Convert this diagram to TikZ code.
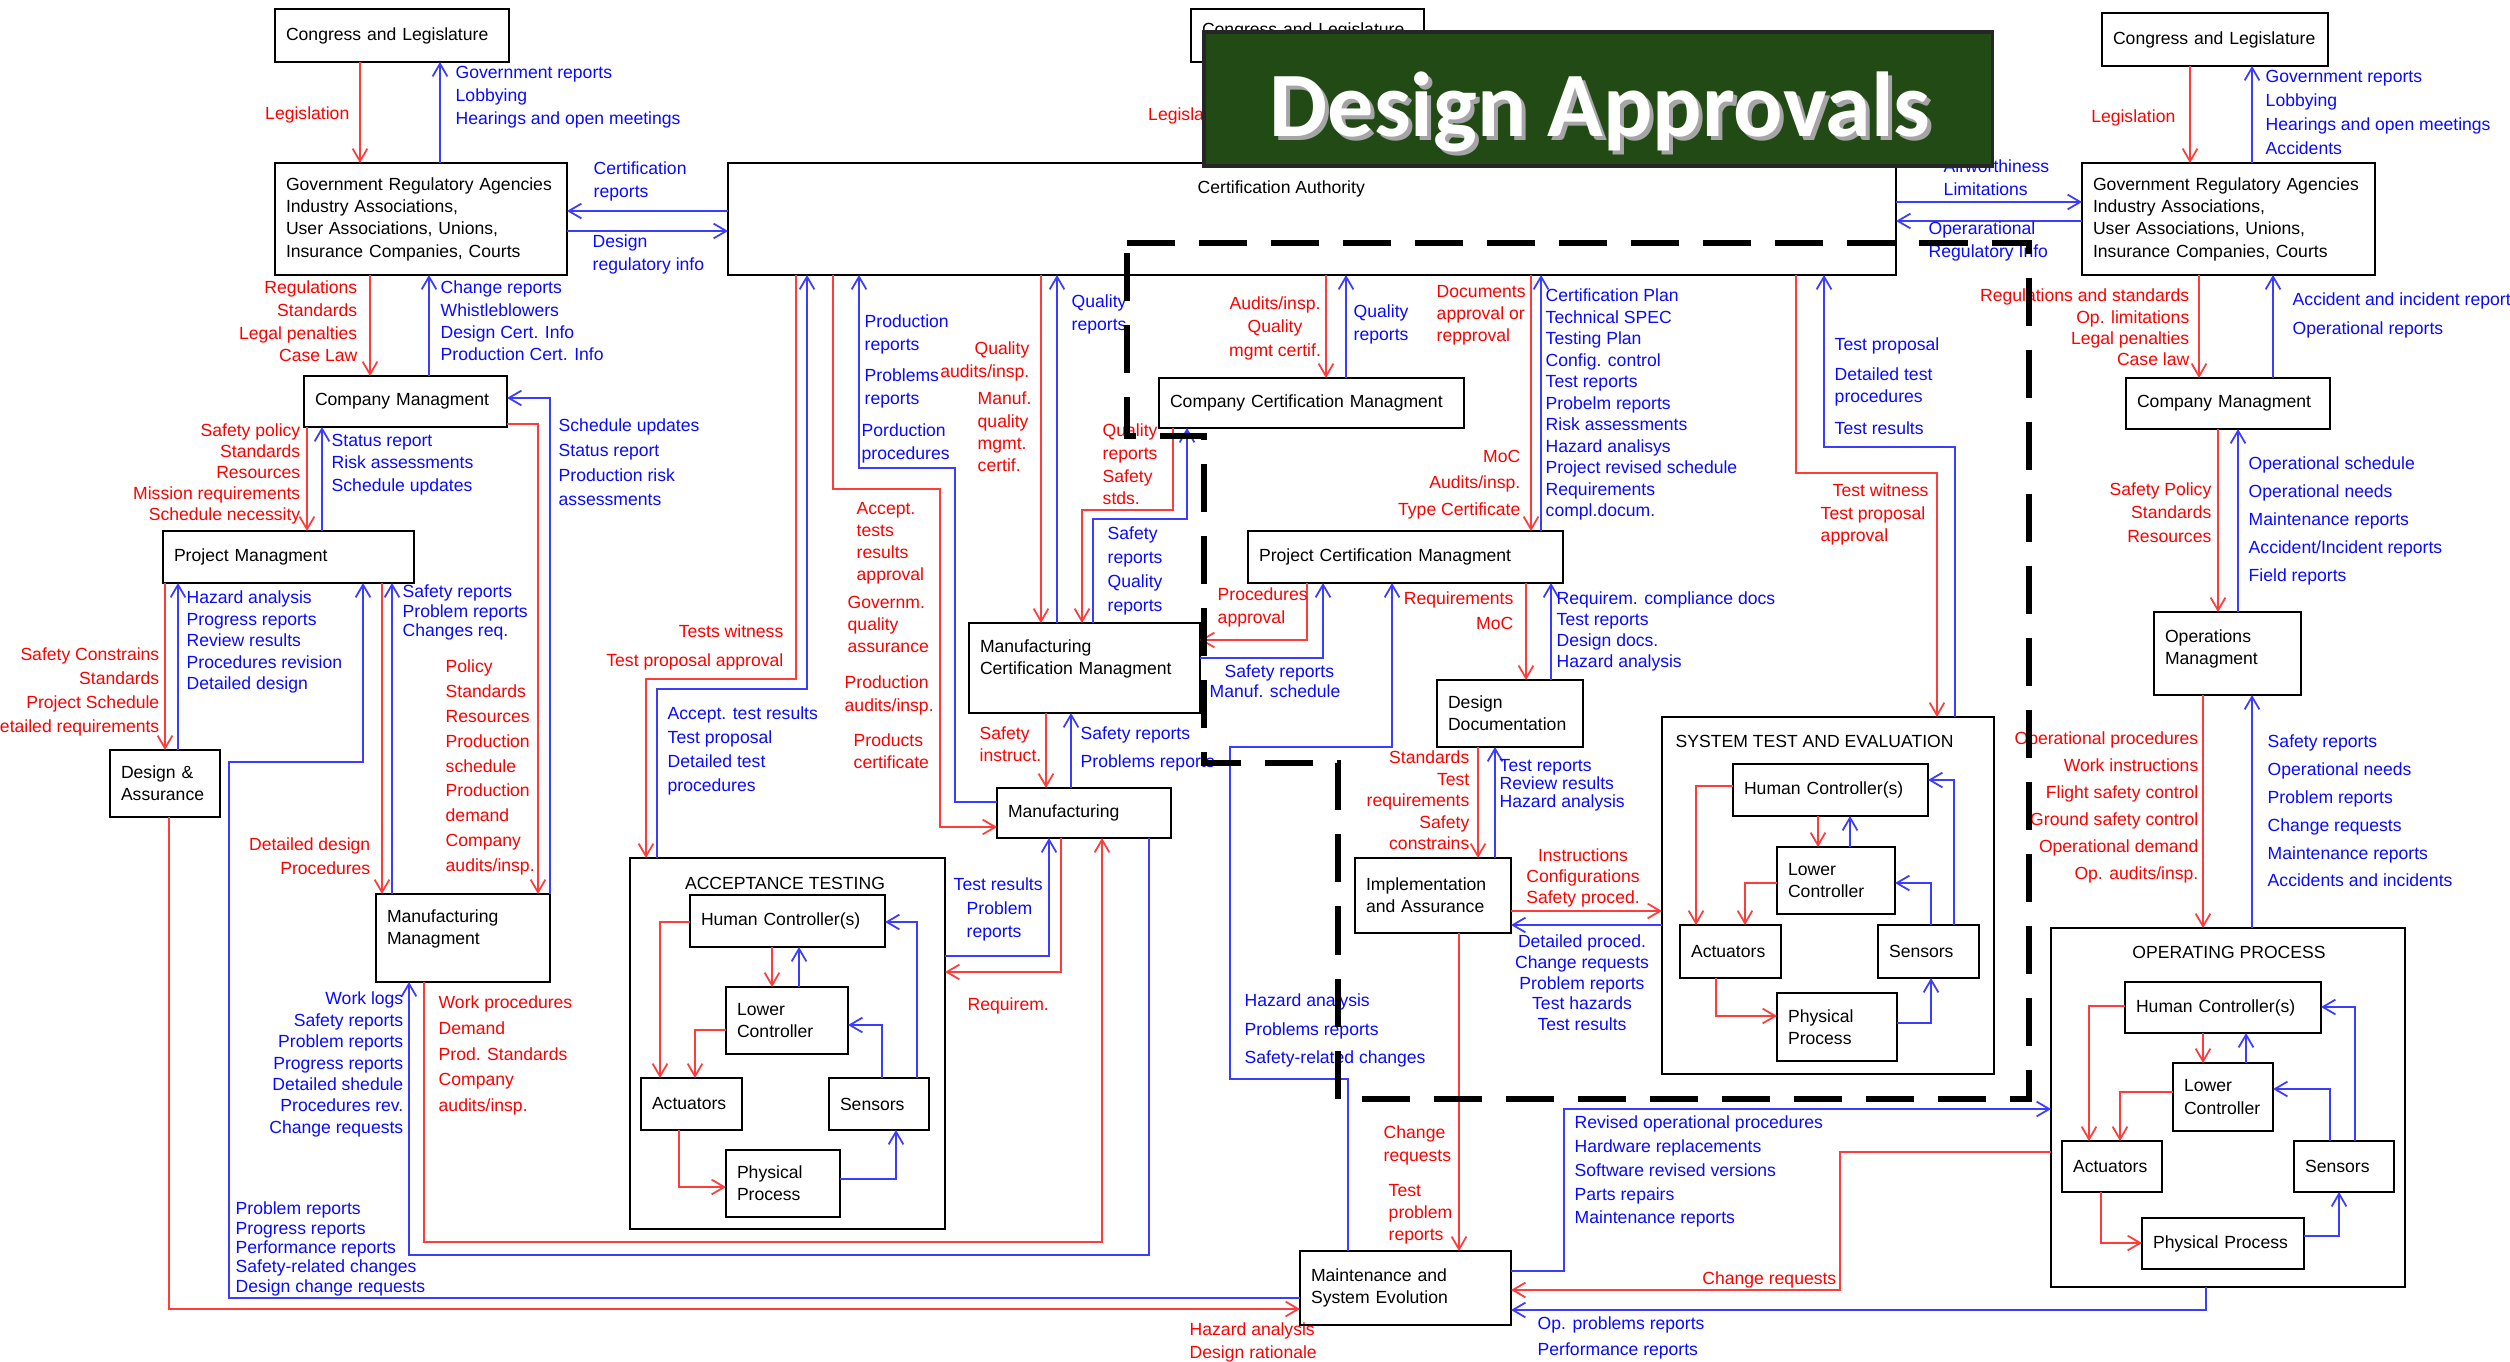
\documentclass[tikz,border=0pt]{standalone}
\usepackage{fontspec}
\setmainfont{Liberation Sans}
\newfontfamily\ttlfont{Carlito}
\usetikzlibrary{arrows.meta}
\definecolor{tred}{RGB}{255,0,0}
\definecolor{tblue}{RGB}{10,10,255}
\definecolor{lred}{RGB}{255,60,60}
\definecolor{lblue}{RGB}{60,60,255}
\definecolor{ttlgreen}{RGB}{34,74,20}
\definecolor{ttlshadow}{RGB}{165,165,165}
\newcommand\lbf[1]{\fontsize{5}{#1}\selectfont}
\tikzset{
  blk/.style 2 args={draw=black, line width=0.75pt, anchor=north west,
    align=left, inner xsep=0.11cm, inner ysep=0pt, outer sep=0pt,
    font=\lbf{6.35}, text width=(#1-22)*0.01cm, minimum height=#2*0.01cm},
  lab/.style={inner sep=0pt, font=\lbf{6.3}, yshift=2.7pt,
    execute at begin node=\rule{0pt}{4.5pt}},
  rw/.style={lab, text=tred, anchor=north west, align=left},
  re/.style={lab, text=tred, anchor=north east, align=right},
  rc/.style={lab, text=tred, anchor=north, align=center},
  bw/.style={lab, text=tblue, anchor=north west, align=left},
  be/.style={lab, text=tblue, anchor=north east, align=right},
  bc/.style={lab, text=tblue, anchor=north, align=center},
  bt/.style={lab, text=black, anchor=north west, align=left},
  ra/.style={draw=lred, line width=0.5pt, -{Straight Barb[length=3.6pt,width=4.2pt]}},
  ba/.style={draw=lblue, line width=0.5pt, -{Straight Barb[length=3.6pt,width=4.2pt]}},
  bound/.style={line width=1.85pt, dash pattern=on 0.48cm off 0.24cm}
}

\begin{document}
\begin{tikzpicture}[x=0.01cm, y=-0.01cm,
  ttltext/.style={anchor=base, inner sep=0pt,
    font=\ttlfont\bfseries\fontsize{26.2}{30}\selectfont}]
\path[use as bounding box, fill=white] (0,0) rectangle (2510,1361);

% left column
\node[blk={234}{53}] (cgL) at (275,9) {Congress and Legislature};
\node[blk={292}{112}] (graL) at (275,163) {Government Regulatory Agencies\\Industry Associations,\\User Associations, Unions,\\Insurance Companies, Courts};
\node[blk={203}{51}] (cmL) at (304,376) {Company Managment};
\node[blk={251}{52}] (pm) at (163,531) {Project Managment};
\node[blk={110}{67}] (da) at (110,750) {Design \&\\Assurance};
\node[blk={174}{88}] (mmL) at (376,894) {Manufacturing\\Managment\\~};

% certification authority and the middle
\node[blk={1168}{112}] (ca) at (728,163) {};
\node[bt] (caT) at (1197,186) {Certification Authority};
\node[blk={233}{53}] (cgM) at (1191,9) {Congress and Legislature\\[-2.5pt]~};
\node[blk={305}{50}] (ccm) at (1159,378) {Company Certification Managment};
\node[blk={315}{52}] (pcm) at (1248,531) {Project Certification Managment};
\node[blk={231}{90}] (mcm) at (969,623) {Manufacturing\\Certification Managment\\~};
\node[blk={174}{50}] (mfg) at (997,788) {Manufacturing};
\node[blk={146}{67}] (dd) at (1437,680) {Design\\Documentation};
\node[blk={156}{75}] (ia) at (1355,858) {Implementation\\and Assurance};
\node[blk={211}{74}] (mse) at (1300,1251) {Maintenance and\\System Evolution};

% right column
\node[blk={226}{53}] (cgR) at (2102,13) {Congress and Legislature};
\node[blk={293}{112}] (graR) at (2082,163) {Government Regulatory Agencies\\Industry Associations,\\User Associations, Unions,\\Insurance Companies, Courts};
\node[blk={204}{51}] (cmR) at (2126,378) {Company Managment};
\node[blk={147}{83}] (ops) at (2154,612) {Operations\\Managment\\[-2.9pt]~};

% acceptance testing
\node[blk={315}{371}] (at) at (630,858) {};
\node[bt, anchor=north] (atT) at (785,882) {ACCEPTANCE TESTING};
\node[blk={195}{52}] (atHC) at (690,895) {Human Controller(s)};
\node[blk={122}{67}] (atLC) at (726,987) {Lower\\Controller};
\node[blk={101}{52}] (atAc) at (641,1078) {Actuators};
\node[blk={100}{52}] (atSe) at (829,1078) {Sensors};
\node[blk={114}{67}] (atPP) at (726,1150) {Physical\\Process};

% system test and evaluation
\node[blk={332}{357}] (ste) at (1662,717) {};
\node[bt] (steT) at (1675,740) {SYSTEM TEST AND EVALUATION};
\node[blk={195}{52}] (stHC) at (1733,764) {Human Controller(s)};
\node[blk={118}{67}] (stLC) at (1777,847) {Lower\\Controller};
\node[blk={101}{53}] (stAc) at (1680,925) {Actuators};
\node[blk={101}{53}] (stSe) at (1878,925) {Sensors};
\node[blk={120}{68}] (stPP) at (1777,993) {Physical\\Process};

% operating process
\node[blk={354}{359}] (op) at (2051,928) {};
\node[bt, anchor=north] (opT) at (2229,951) {OPERATING PROCESS};
\node[blk={196}{51}] (opHC) at (2125,982) {Human Controller(s)};
\node[blk={100}{68}] (opLC) at (2173,1063) {Lower\\Controller};
\node[blk={100}{51}] (opAc) at (2062,1141) {Actuators};
\node[blk={100}{51}] (opSe) at (2294,1141) {Sensors};
\node[blk={162}{51}] (opPP) at (2142,1218) {Physical Process};

% left connectors
\draw[ra] (cgL.south -| 360,0) -- (graL.north -| 360,0);
\draw[ba] (graL.north -| 440,0) -- (cgL.south -| 440,0);
\draw[ba] (ca.west |- 0,211) -- (graL.east |- 0,211);
\draw[ba] (graL.east |- 0,231) -- (ca.west |- 0,231);
\draw[ra] (graL.south -| 370,0) -- (cmL.north -| 370,0);
\draw[ba] (cmL.north -| 429,0) -- (graL.south -| 429,0);
\draw[ra] (cmL.south -| 307,0) -- (pm.north -| 307,0);
\draw[ba] (pm.north -| 322,0) -- (cmL.south -| 322,0);
\draw[ba] (mmL.north east) |- (cmL.east |- 0,398);
\draw[ra] (cmL.east |- 0,424) -| (mmL.north -| 538,0);
\draw[ra] (pm.south -| 165,0) -- (da.north -| 165,0);
\draw[ba] (da.north -| 178,0) -- (pm.south -| 178,0);
\draw[ba] (mse.west |- 0,1298) -| (229,762) -| (pm.south -| 363,0);
\draw[ra] (da.south -| 169,0) |- (mse.west |- 0,1309);
\draw[ra] (pm.south -| 382,0) -- (mmL.north -| 382,0);
\draw[ba] (mmL.north -| 392,0) -- (pm.south -| 392,0);
\draw[ba] (mfg.south -| 1149,0) |- (409,1255) -- (mmL.south -| 409,0);
\draw[ra] (mmL.south -| 424,0) |- (1102,1242) -- (mfg.south -| 1102,0);

% middle connectors
\draw[ra] (ca.south -| 796,0) |- (646,679) -- (at.north -| 646,0);
\draw[ba] (at.north -| 657,0) |- (807,689) -- (ca.south -| 807,0);
\draw[ra] (ca.south -| 833,0) |- (940,489) |- (mfg.west |- 0,827);
\draw[ba] (mfg.west |- 0,802) -| (955,468) -| (ca.south -| 859,0);
\draw[ra] (ca.south -| 1041,0) -- (mcm.north -| 1041,0);
\draw[ba] (mcm.north -| 1057,0) -- (ca.south -| 1057,0);
\draw[ra] (ccm.south -| 1173,0) |- (1082,510) -- (mcm.north -| 1082,0);
\draw[ba] (mcm.north -| 1093,0) |- (1187,519) -- (ccm.south -| 1187,0);
\draw[ra] (ca.south -| 1326,0) -- (ccm.north -| 1326,0);
\draw[ba] (ccm.north -| 1346,0) -- (ca.south -| 1346,0);
\draw[ra] (ca.south -| 1531,0) -- (pcm.north -| 1531,0);
\draw[ba] (pcm.north -| 1541,0) -- (ca.south -| 1541,0);
\draw[ra] (ca.south -| 1796,0) |- (1937,473) -- (ste.north -| 1937,0);
\draw[ba] (ste.north -| 1955,0) |- (1824,447) -- (ca.south -| 1824,0);
\draw[ra] (pcm.south -| 1307,0) |- (mcm.east |- 0,640);
\draw[ba] (mcm.east |- 0,658) -| (pcm.south -| 1323,0);
\draw[ra] (mcm.south -| 1046,0) -- (mfg.north -| 1046,0);
\draw[ba] (mfg.north -| 1071,0) -- (mcm.south -| 1071,0);
\draw[ba] (at.east |- 0,956) -| (mfg.south -| 1049,0);
\draw[ra] (mfg.south -| 1061,0) |- (at.east |- 0,972);
\draw[ra] (pcm.south -| 1526,0) -- (dd.north -| 1526,0);
\draw[ba] (dd.north -| 1551,0) -- (pcm.south -| 1551,0);
\draw[ra] (dd.south -| 1478,0) -- (ia.north -| 1478,0);
\draw[ba] (ia.north -| 1495,0) -- (dd.south -| 1495,0);
\draw[ra] (ia.east |- 0,911) -- (ste.west |- 0,911);
\draw[ba] (ste.west |- 0,925) -- (ia.east |- 0,925);
\draw[ra] (ia.south -| 1459,0) -- (mse.north -| 1459,0);
\draw[ba] (mse.north -| 1348,0) |- (1230,1079) |- (1392,747) -- (pcm.south -| 1392,0);

% right connectors
\draw[ba] (ca.east |- 0,202) -- (graR.west |- 0,202);
\draw[ba] (graR.west |- 0,221) -- (ca.east |- 0,221);
\draw[ra] (cgR.south -| 2190,0) -- (graR.north -| 2190,0);
\draw[ba] (graR.north -| 2252,0) -- (cgR.south -| 2252,0);
\draw[ra] (graR.south -| 2199,0) -- (cmR.north -| 2199,0);
\draw[ba] (cmR.north -| 2273,0) -- (graR.south -| 2273,0);
\draw[ra] (cmR.south -| 2218,0) -- (ops.north -| 2218,0);
\draw[ba] (ops.north -| 2238,0) -- (cmR.south -| 2238,0);
\draw[ra] (ops.south -| 2203,0) -- (op.north -| 2203,0);
\draw[ba] (op.north -| 2252,0) -- (ops.south -| 2252,0);
\draw[ba] (mse.east |- 0,1271) -| (1564,1109) -- (op.west |- 0,1109);
\draw[ra] (op.west |- 0,1152) -| (1840,1290) -- (mse.east |- 0,1290);
\draw[ba] (op.south -| 2206,0) |- (mse.east |- 0,1310);

% control loops
\draw[ra] (atHC.west |- 0,922) -| (atAc.north -| 660,0);
\draw[ra] (atHC.south -| 772,0) -- (atLC.north -| 772,0);
\draw[ba] (atLC.north -| 799,0) -- (atHC.south -| 799,0);
\draw[ra] (atLC.west |- 0,1030) -| (atAc.north -| 695,0);
\draw[ba] (atSe.north -| 882,0) |- (atLC.east |- 0,1025);
\draw[ba] (atSe.north -| 917,0) |- (atHC.east |- 0,922);
\draw[ra] (atAc.south -| 679,0) |- (atPP.west |- 0,1187);
\draw[ba] (atPP.east |- 0,1179) -| (atSe.south -| 896,0);

\draw[ra] (stHC.west |- 0,786) -| (stAc.north -| 1696,0);
\draw[ra] (stHC.south -| 1818,0) -- (stLC.north -| 1818,0);
\draw[ba] (stLC.north -| 1850,0) -- (stHC.south -| 1850,0);
\draw[ra] (stLC.west |- 0,883) -| (stAc.north -| 1745,0);
\draw[ba] (stSe.north -| 1931,0) |- (stLC.east |- 0,883);
\draw[ba] (stSe.north -| 1954,0) |- (stHC.east |- 0,780);
\draw[ra] (stAc.south -| 1716,0) |- (stPP.west |- 0,1016);
\draw[ba] (stPP.east |- 0,1023) -| (stSe.south -| 1931,0);

\draw[ra] (opHC.west |- 0,1006) -| (opAc.north -| 2089,0);
\draw[ra] (opHC.south -| 2203,0) -- (opLC.north -| 2203,0);
\draw[ba] (opLC.north -| 2246,0) -- (opHC.south -| 2246,0);
\draw[ra] (opLC.west |- 0,1092) -| (opAc.north -| 2120,0);
\draw[ba] (opSe.north -| 2330,0) |- (opLC.east |- 0,1089);
\draw[ba] (opSe.north -| 2355,0) |- (opHC.east |- 0,1007);
\draw[ra] (opAc.south -| 2101,0) |- (opPP.west |- 0,1243);
\draw[ba] (opPP.east |- 0,1236) -| (opSe.south -| 2339,0);

% left labels
\node[re] (lLegL) at (350,112) {Legislation};
\node[bw, font=\lbf{6.6}] (lGovL) at (455,75) {Government reports\\Lobbying\\Hearings and open meetings};
\node[bw] (lCertRep) at (593,171) {Certification\\reports};
\node[bw] (lDesReg) at (592,244) {Design\\regulatory info};
\node[re, font=\lbf{6.45}] (lRegL) at (358,290) {Regulations\\Standards\\Legal penalties\\Case Law};
\node[bw, font=\lbf{6.35}] (lChgRep) at (440,290) {Change reports\\Whistleblowers\\Design Cert. Info\\Production Cert. Info};
\node[re, font=\lbf{5.95}] (lSafPol) at (301,433) {Safety policy\\Standards\\Resources\\Mission requirements\\Schedule necessity};
\node[bw, font=\lbf{6.4}] (lStatRep) at (331,443) {Status report\\Risk assessments\\Schedule updates};
\node[bw, font=\lbf{7}] (lSchUpd) at (558,428) {Schedule updates\\Status report\\Production risk\\assessments};
\node[rw, font=\lbf{7.05}] (lPolicy) at (445,669) {Policy\\Standards\\Resources\\Production\\schedule\\Production\\demand\\Company\\audits/insp.};
\node[re, font=\lbf{6.75}] (lSafCon) at (160,657) {Safety Constrains\\Standards\\Project Schedule\\Detailed requirements};
\node[bw, font=\lbf{6.1}] (lHazPM) at (186,600) {Hazard analysis\\Progress reports\\Review results\\Procedures revision\\Detailed design};
\node[re, font=\lbf{6.8}] (lDetDes) at (371,847) {Detailed design\\Procedures};
\node[bw, font=\lbf{5.55}] (lSafRepPM) at (402,594) {Safety reports\\Problem reports\\Changes req.};
\node[bw, font=\lbf{5.5}] (lProbPM) at (235,1211) {Problem reports\\Progress reports\\Performance reports\\Safety-related changes\\Design change requests};
\node[rw] (lHazMS) at (1189,1332) {Hazard analysis\\Design rationale};
\node[be, font=\lbf{6.07}] (lWorkLogs) at (404,1001) {Work logs\\Safety reports\\Problem reports\\Progress reports\\Detailed shedule\\Procedures rev.\\Change requests};
\node[rw, font=\lbf{7.3}] (lWorkProc) at (438,1005) {Work procedures\\Demand\\Prod. Standards\\Company\\audits/insp.};

% middle labels
\node[re, font=\lbf{8}] (lTestsW) at (784,634) {Tests witness\\Test proposal approval};
\node[bw, font=\lbf{6.8}] (lAccRes) at (667,716) {Accept. test results\\Test proposal\\Detailed test\\procedures};
\node[rw] (lAccept) at (856,511) {Accept.\\tests\\results\\approval};
\node[rw] (lGovQA) at (847,605) {Governm.\\quality\\assurance};
\node[rw] (lProdAud) at (844,685) {Production\\audits/insp.};
\node[rw, font=\lbf{6}] (lProdCert) at (853,743) {Products\\certificate};
\node[bw] (lProdRep) at (864,324) {Production\\reports};
\node[bw] (lProbRep) at (864,378) {Problems\\reports};
\node[bw] (lPorProc) at (861,433) {Porduction\\procedures};
\node[re] (lQualAud) at (1030,351) {Quality\\audits/insp.};
\node[rw] (lManuf) at (977,401) {Manuf.\\quality\\mgmt.\\certif.};
\node[bw, font=\lbf{6.55}] (lQualMC) at (1071,304) {Quality\\reports};
\node[rw, font=\lbf{6.45}] (lQualSaf) at (1102,433) {Quality\\reports\\Safety\\stds.};
\node[bw, font=\lbf{6.8}] (lSafQual) at (1107,536) {Safety\\reports\\Quality\\reports};
\node[rc, font=\lbf{6.55}] (lAudQ) at (1275,306) {Audits/insp.\\Quality\\mgmt certif.};
\node[bw, font=\lbf{6.55}] (lQualCC) at (1353,314) {Quality\\reports};
\node[rw] (lDocs) at (1436,294) {Documents\\approval or\\repproval};
\node[re, font=\lbf{7.5}] (lMoCPC) at (1521,459) {MoC\\Audits/insp.\\Type Certificate};
\node[bw, font=\lbf{6.1}] (lCertPlan) at (1545,298) {Certification Plan\\Technical SPEC\\Testing Plan\\Config. control\\Test reports\\Probelm reports\\Risk assessments\\Hazard analisys\\Project revised schedule\\Requirements\\compl.docum.};
\node[rw] (lTestW) at (1820,493) {\hspace*{0.12cm}Test witness\\Test proposal\\approval};
\node[bw] (lTestProp) at (1834,347) {Test proposal\\[2pt]Detailed test\\procedures\\[2.8pt]Test results};
\node[bw] (lAirw) at (1943,169) {Airworthiness\\Limitations};
\node[bw] (lOpReg) at (1928,231) {Operarational\\Regulatory Info};
\node[re] (lLegM) at (1233,113) {Legislation};
\node[rw, font=\lbf{6.55}] (lProcAppr) at (1217,597) {Procedures\\approval};
\node[bw, font=\lbf{5.7}] (lSafMan) at (1209,674) {\hspace*{0.15cm}Safety reports\\Manuf. schedule};
\node[rw, font=\lbf{6}] (lSafInstr) at (979,736) {Safety\\instruct.};
\node[bw, font=\lbf{7.7}] (lSafRepMf) at (1080,736) {Safety reports\\Problems reports};
\node[bw, font=\lbf{6.6}] (lTestRes) at (953,887) {Test results\\\hspace*{0.13cm}Problem\\\hspace*{0.13cm}reports};
\node[rw] (lRequirem) at (967,1003) {Requirem.};
\node[re, font=\lbf{7.1}] (lReqDD) at (1514,601) {Requirements\\MoC};
\node[bw, font=\lbf{5.9}] (lReqComp) at (1556,601) {Requirem. compliance docs\\Test reports\\Design docs.\\Hazard analysis};
\node[re, font=\lbf{6.1}] (lStdDD) at (1470,760) {Standards\\Test\\requirements\\Safety\\constrains};
\node[bw, font=\lbf{5.2}] (lTestRepDD) at (1499,768) {Test reports\\Review results\\Hazard analysis};
\node[rc, font=\lbf{5.85}] (lInstr) at (1583,858) {Instructions\\Configurations\\Safety proced.};
\node[bc, font=\lbf{5.85}] (lDetProc) at (1582,944) {Detailed proced.\\Change requests\\Problem reports\\Test hazards\\Test results};
\node[bw, font=\lbf{8}] (lHazMP) at (1244,1003) {Hazard analysis\\Problems reports\\Safety-related changes};
\node[rw, font=\lbf{6.55}] (lChgTest) at (1383,1135) {Change\\requests};
\node[rw] (lTestProb) at (1388,1193) {Test\\problem\\reports};

% right labels
\node[re] (lLegR) at (2176,115) {Legislation};
\node[bw, font=\lbf{6.8}] (lGovR) at (2265,79) {Government reports\\Lobbying\\Hearings and open meetings\\Accidents};
\node[re, font=\lbf{6.07}] (lRegR) at (2190,298) {Regulations and standards\\Op. limitations\\Legal penalties\\Case law};
\node[bw, font=\lbf{8.25}] (lAccR) at (2292,302) {Accident and incident reports\\Operational reports};
\node[re, font=\lbf{6.55}] (lSafPolR) at (2212,492) {Safety Policy\\Standards\\Resources};
\node[bw, font=\lbf{7.9}] (lOpSch) at (2248,466) {Operational schedule\\Operational needs\\Maintenance reports\\Accident/Incident reports\\Field reports};
\node[re, font=\lbf{7.63}] (lOpProc) at (2199,741) {Operational procedures\\Work instructions\\Flight safety control\\Ground safety control\\Operational demand\\Op. audits/insp.};
\node[bw, font=\lbf{7.9}] (lSafRepR) at (2267,744) {Safety reports\\Operational needs\\Problem reports\\Change requests\\Maintenance reports\\Accidents and incidents};
\node[bw, font=\lbf{6.75}] (lRevOp) at (1574,1125) {Revised operational procedures\\Hardware replacements\\Software revised versions\\Parts repairs\\Maintenance reports};
\node[re] (lChgReqR) at (1837,1277) {Change requests};
\node[bw, font=\lbf{7.4}] (lOpProb) at (1537,1326) {Op. problems reports\\Performance reports};

% design organisation boundary
\draw[bound] (1127,243) -- (2029,243) -- (2029,1099) -- (1338,1099) -- (1338,763)
  -- (1204,763) -- (1204,436) -- (1127,436) -- cycle;

% title
\node[draw=black!85, line width=1pt, fill=ttlgreen, anchor=north west, inner sep=0pt,
  outer sep=0pt, minimum width=7.88cm, minimum height=1.34cm] (ttlbox) at (1204,32) {};
\node[ttltext, text=ttlshadow] (ttlS) at (1604,141) {Design Approvals};
\node[ttltext, text=white] (ttlT) at (1600,137) {Design Approvals};
\end{tikzpicture}
\end{document}
